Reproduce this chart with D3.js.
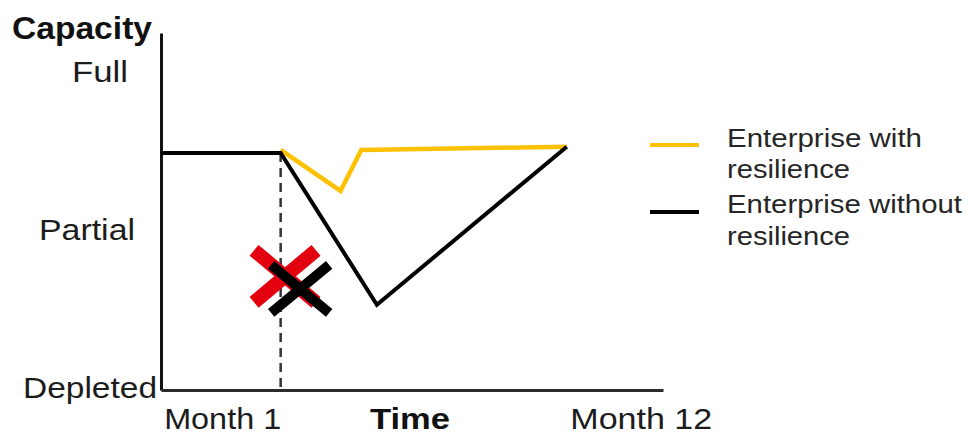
<!DOCTYPE html>
<html>
<head>
<meta charset="utf-8">
<script src="https://cdn.jsdelivr.net/npm/d3@7"></script>
<style>
  body { margin: 0; background: #ffffff; }
  svg { display: block; }
</style>
</head>
<body>
<svg id="chart" width="968" height="436"></svg>
<script>
// Capacity levels shown on the vertical axis
const yTickValues = [0, 50, 100];
const yTickLabels = ["Depleted", "Partial", "Full"];

// Time ticks (months) on the horizontal axis
const xTickValues = [1, 12];
const xTickLabels = ["Month 1", "Month 12"];

// Series: capacity (%) over time (months)
const seriesNames = ["Enterprise with resilience", "Enterprise without resilience"];
const withResilienceMonth = [1, 3.3, 4.1, 12];
const withResilienceCapacity = [76, 63, 76, 77];
const withoutResilienceMonth = [-3.6, 1, 4.7, 12];
const withoutResilienceCapacity = [75, 75, 27, 77];

// Disruption event
const disruptionMonth = 1;
const disruptionCapacity = 75;
const disruptionMarkMonth = [1.17, 1.75];
const disruptionMarkCapacity = [36, 32];

const svg = d3.select("#chart");
const FONT = "'Liberation Sans', Arial, sans-serif";

const x = d3.scaleLinear().domain([-3.6, 15.7]).range([161, 663]);
const y = d3.scaleLinear().domain([0, 113]).range([390, 33]);

// Dashed marker of the disruption month
svg.append("line")
  .attr("x1", x(disruptionMonth)).attr("x2", x(disruptionMonth))
  .attr("y1", y(disruptionCapacity)).attr("y2", y(0))
  .attr("stroke", "#333").attr("stroke-width", 2.5)
  .attr("stroke-dasharray", "9,6");

// Vertical axis
const yAxis = svg.append("g")
  .attr("transform", `translate(${x.range()[0]},0)`)
  .call(d3.axisLeft(y).tickValues(yTickValues)
    .tickFormat((d, i) => yTickLabels[i]).tickSize(0).tickSizeOuter(0));
yAxis.select(".domain").attr("stroke", "#111").attr("stroke-width", 3);
const yLabelRight = [-4, -26, -33];
const yLabelWidth = [134, 96, 56];
yAxis.selectAll(".tick text")
  .attr("font-family", FONT).attr("font-size", 30).attr("fill", "#1c1c1c")
  .attr("dy", null).attr("y", 7)
  .attr("x", (d, i) => yLabelRight[i])
  .attr("text-anchor", "end")
  .attr("textLength", (d, i) => yLabelWidth[i])
  .attr("lengthAdjust", "spacingAndGlyphs");

// Horizontal axis
const xAxis = svg.append("g")
  .attr("transform", `translate(0,${y(0)})`)
  .call(d3.axisBottom(x).tickValues(xTickValues)
    .tickFormat((d, i) => xTickLabels[i]).tickSize(0).tickSizeOuter(0));
xAxis.select(".domain").attr("stroke", "#2a2a2a").attr("stroke-width", 3);
const xLabelWidth = [117, 142];
xAxis.selectAll(".tick text")
  .attr("font-family", FONT).attr("font-size", 29).attr("fill", "#1c1c1c")
  .attr("dy", null).attr("y", 39)
  .attr("x", (d, i) => i === 0 ? 0 : 3)
  .attr("text-anchor", (d, i) => i === 0 ? "end" : "start")
  .attr("textLength", (d, i) => xLabelWidth[i])
  .attr("lengthAdjust", "spacingAndGlyphs");

// Axis titles
svg.append("text")
  .attr("x", 12).attr("y", 39)
  .attr("font-family", FONT).attr("font-size", 31).attr("font-weight", "bold")
  .attr("fill", "#111")
  .attr("textLength", 140).attr("lengthAdjust", "spacingAndGlyphs")
  .text("Capacity");
svg.append("text")
  .attr("x", 410).attr("y", 429).attr("text-anchor", "middle")
  .attr("font-family", FONT).attr("font-size", 29).attr("font-weight", "bold")
  .attr("fill", "#111")
  .attr("textLength", 80).attr("lengthAdjust", "spacingAndGlyphs")
  .text("Time");

// Series lines
const line = d3.line()
  .x(d => x(d.month))
  .y(d => y(d.capacity));

const withData = withResilienceMonth.map((m, i) => ({ month: m, capacity: withResilienceCapacity[i] }));
const withoutData = withoutResilienceMonth.map((m, i) => ({ month: m, capacity: withoutResilienceCapacity[i] }));
const colors = ["#ffc000", "#000000"];

svg.append("path").datum(withData)
  .attr("d", line).attr("fill", "none")
  .attr("stroke", colors[0]).attr("stroke-width", 4.5)
  .attr("stroke-linejoin", "miter");
svg.append("path").datum(withoutData)
  .attr("d", line).attr("fill", "none")
  .attr("stroke", colors[1]).attr("stroke-width", 4)
  .attr("stroke-linejoin", "miter");

// Disruption crosses (red behind, black in front)
const crossStyle = [
  { color: "#e3000f", width: 14, hx: 31, hy: 26 },
  { color: "#000000", width: 10, hx: 29, hy: 24 }
];
disruptionMarkMonth.forEach((m, i) => {
  const cx = x(m), cy = y(disruptionMarkCapacity[i]);
  const s = crossStyle[i];
  svg.append("path")
    .attr("d", `M${cx - s.hx},${cy - s.hy}L${cx + s.hx},${cy + s.hy}M${cx + s.hx},${cy - s.hy}L${cx - s.hx},${cy + s.hy}`)
    .attr("stroke", s.color).attr("stroke-width", s.width)
    .attr("fill", "none");
});

// Legend
const legendLines = [["Enterprise with", "resilience"], ["Enterprise without", "resilience"]];
const legendLineY = [145, 212];
const legendTextY = [[147, 178], [213, 245]];
const legendTextWidth = { "Enterprise with": 195, "Enterprise without": 235, "resilience": 123 };
seriesNames.forEach((name, i) => {
  const g = svg.append("g").attr("class", "legend-item").attr("aria-label", name);
  g.append("line")
    .attr("x1", 650).attr("x2", 699)
    .attr("y1", legendLineY[i]).attr("y2", legendLineY[i])
    .attr("stroke", colors[i]).attr("stroke-width", 4);
  legendLines[i].forEach((t, j) => {
    g.append("text")
      .attr("x", 727).attr("y", legendTextY[i][j])
      .attr("font-family", FONT).attr("font-size", 26).attr("fill", "#262626")
      .attr("textLength", legendTextWidth[t]).attr("lengthAdjust", "spacingAndGlyphs")
      .text(t);
  });
});
</script>
</body>
</html>
